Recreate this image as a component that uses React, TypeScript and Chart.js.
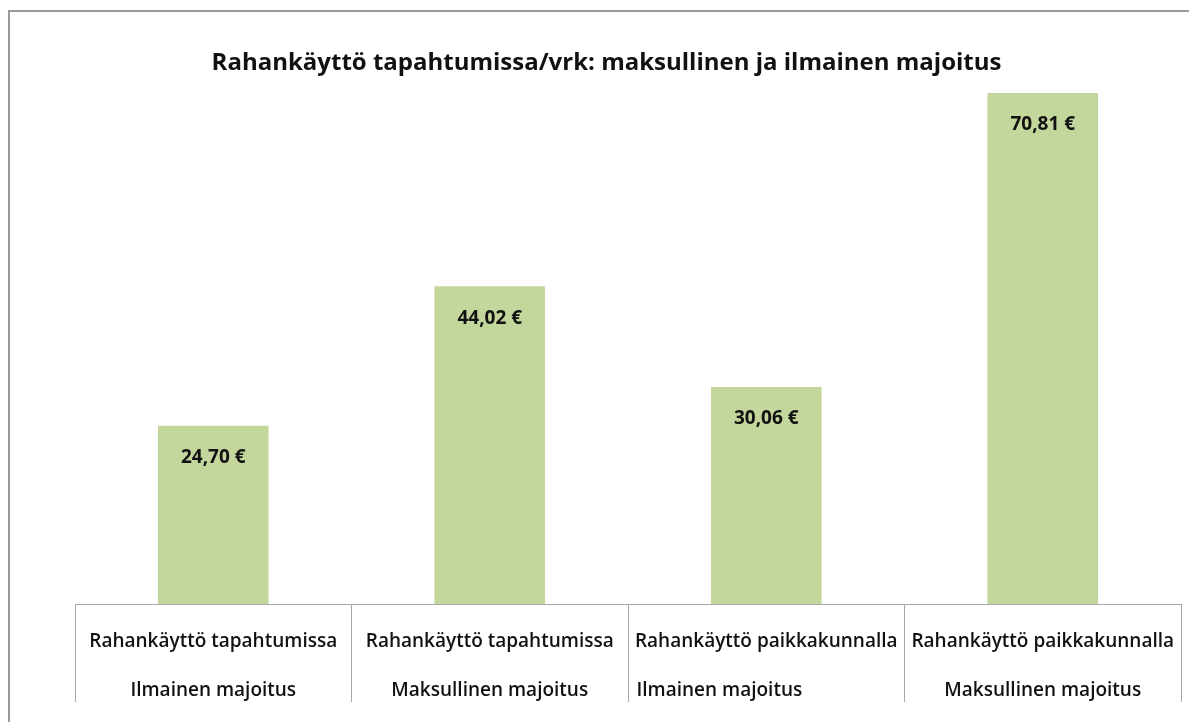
import React, { useEffect, useRef } from "react";
import { Chart, registerables } from "chart.js";

Chart.register(...registerables);

const titleText = "Rahankäyttö tapahtumissa/vrk: maksullinen ja ilmainen majoitus";
const categoryTop = [
  "Rahankäyttö tapahtumissa",
  "Rahankäyttö tapahtumissa",
  "Rahankäyttö paikkakunnalla",
  "Rahankäyttö paikkakunnalla",
];
const categoryBottom = [
  "Ilmainen majoitus",
  "Maksullinen majoitus",
  "Ilmainen majoitus                   ",
  "Maksullinen majoitus",
];
const values = [24.7, 44.02, 30.06, 70.81];
const valueLabels = ["24,70 €", "44,02 €", "30,06 €", "70,81 €"];

const FONT = "'Open Sans', Lato, sans-serif";

const barLabelPlugin = {
  id: "barLabels",
  afterDatasetsDraw(chart: any) {
    const { ctx } = chart;
    const meta = chart.getDatasetMeta(0);
    ctx.save();
    ctx.font = `bold 19px ${FONT}`;
    ctx.fillStyle = "#111111";
    ctx.textAlign = "center";
    ctx.textBaseline = "middle";
    meta.data.forEach((bar: any, i: number) => {
      ctx.fillText(valueLabels[i], bar.x, bar.y + 32);
    });
    ctx.restore();
  },
  afterDraw(chart: any) {
    const { ctx } = chart;
    ctx.save();
    ctx.font = `bold 24px ${FONT}`;
    ctx.fillStyle = "#111111";
    ctx.textAlign = "center";
    ctx.textBaseline = "alphabetic";
    ctx.fillText(titleText, 598.5, 62);
    ctx.restore();
  },
};

export default function App() {
  const ref = useRef<HTMLCanvasElement | null>(null);
  useEffect(() => {
    if (!ref.current) return;
    const chart = new Chart(ref.current, {
      type: "bar",
      data: {
        labels: categoryTop.map((t, i) => [t, categoryBottom[i]]),
        datasets: [
          {
            data: values,
            backgroundColor: "#c3d69b",
            borderWidth: 0,
            barPercentage: 0.4,
            categoryPercentage: 1,
          },
        ],
      },
      options: {
        responsive: false,
        animation: false,
        layout: { padding: { left: 67, right: 16, top: 76.4, bottom: 0 } },
        plugins: {
          legend: { display: false },
          tooltip: { enabled: false },
          title: { display: false },
        },
        scales: {
          y: { display: false, min: 0, max: 72 },
          x: {
            offset: true,
            grid: {
              offset: true,
              drawOnChartArea: false,
              drawTicks: true,
              tickLength: 98,
              color: "#a6a6a6",
              lineWidth: 1,
            },
            border: { display: true, color: "#a6a6a6", width: 1 },
            title: {
              display: true,
              text: "",
              font: { size: 10, lineHeight: 1 },
              padding: { top: 81, bottom: 0 },
            },
            ticks: {
              color: "#111111",
              padding: -84.5,
              maxRotation: 0,
              autoSkip: false,
              font: { family: FONT, size: 19, weight: "600", lineHeight: "49px" as any },
            },
          },
        },
      },
      plugins: [barLabelPlugin],
    });
    return () => chart.destroy();
  }, []);
  return (
    <div style={{ position: "relative", width: 1189, height: 714, overflow: "visible" }}>
      <div
        style={{
          position: "absolute",
          left: 0,
          top: 2,
          width: 1200,
          height: 720,
          borderTop: "2px solid #9a9a9a",
          borderLeft: "2px solid #9a9a9a",
          boxSizing: "border-box",
        }}
      />
      <canvas
        ref={ref}
        width={1189}
        height={714}
        style={{ position: "absolute", left: 0, top: 0, width: 1189, height: 714 }}
      />
    </div>
  );
}
